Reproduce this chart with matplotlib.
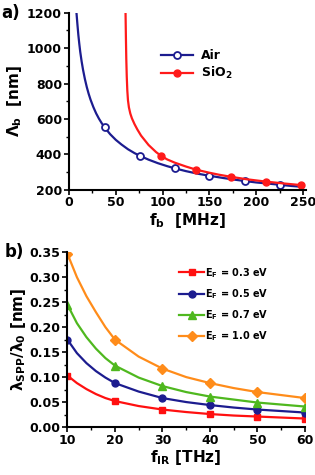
import numpy as np
import matplotlib
matplotlib.use("Agg")
import matplotlib.pyplot as plt
from matplotlib.ticker import MultipleLocator, AutoMinorLocator

plt.rcParams['font.family'] = ['DejaVu Sans']
plt.rcParams['font.weight'] = 'bold'
plt.rcParams['axes.labelweight'] = 'bold'
plt.rcParams['mathtext.fontset'] = 'dejavusans'
plt.rcParams['mathtext.default'] = 'bf'

# ---- panel a) data (read off the picture)
air_f = [8, 9, 10, 11, 12, 13.5, 15, 17, 19, 21, 23, 26, 29, 32, 35, 38, 44, 50, 56, 63, 70, 76,
         85, 95, 105, 113, 125, 138, 150, 165, 178, 188, 200, 212, 225, 238, 250]
air_L = [1200, 1135, 1075, 1025, 980, 925, 878, 825, 780, 742, 709, 667, 631, 601, 575, 552, 513,
         481, 455, 428, 406, 390, 369, 349, 332, 320, 304, 289, 278, 265, 255, 248, 240, 234, 227, 220, 215]
air_mk = [15, 21, 25, 28, 31, 34]

sio2_f = [60.4, 60.8, 61.2, 61.7, 62.3, 63, 64, 65.5, 67.2, 70, 73, 77, 85, 93, 98, 105, 113,
          125, 136, 150, 160, 173, 190, 210, 230, 248]
sio2_L = [1200, 1060, 940, 840, 760, 705, 665, 630, 603, 570, 540, 505, 452, 412, 392, 370, 352,
          330, 312, 295, 284, 272, 258, 245, 234, 225]
sio2_mk = [14, 18, 21, 23, 25]

# ---- panel b) data
f_ir = [10, 12, 14, 16, 18, 20, 25, 30, 35, 40, 45, 50, 55, 60]
ef03 = [0.103, 0.088, 0.076, 0.066, 0.058, 0.052, 0.042, 0.035, 0.030, 0.026, 0.023, 0.021, 0.019, 0.017]
ef05 = [0.175, 0.148, 0.128, 0.112, 0.099, 0.088, 0.071, 0.058, 0.050, 0.044, 0.039, 0.035, 0.032, 0.029]
ef07 = [0.245, 0.208, 0.180, 0.157, 0.138, 0.123, 0.099, 0.082, 0.070, 0.061, 0.055, 0.049, 0.045, 0.041]
ef10 = [0.347, 0.300, 0.262, 0.230, 0.200, 0.175, 0.141, 0.117, 0.100, 0.088, 0.078, 0.070, 0.064, 0.058]
ir_mk = [0, 5, 7, 9, 11, 13]

navy = '#1c1c8f'
red = '#ff1a1a'

fig = plt.figure(figsize=(3.15, 4.75), dpi=100)

def style(ax):
    for s in ['top', 'right']:
        ax.spines[s].set_visible(False)
    for s in ['left', 'bottom']:
        ax.spines[s].set_linewidth(1.5)
    ax.tick_params(which='major', direction='out', length=3.5, width=1.2, labelsize=9, pad=1.5)
    ax.tick_params(which='minor', direction='out', length=2, width=1)
    ax.xaxis.set_minor_locator(AutoMinorLocator(2))
    ax.yaxis.set_minor_locator(AutoMinorLocator(2))

# a)
ax1 = fig.add_axes([0.219, 0.601, 0.752, 0.372])
ax1.plot(air_f, air_L, '-o', color=navy, lw=1.6, ms=5, mfc='white', mec=navy, mew=1.3,
         markevery=air_mk, label='Air')
ax1.plot(sio2_f, sio2_L, '-o', color=red, lw=1.6, ms=5, mfc=red, mec=red,
         markevery=sio2_mk, label='SiO$_2$')
ax1.set_xlim(0, 253)
ax1.set_ylim(200, 1200)
ax1.xaxis.set_major_locator(MultipleLocator(50))
ax1.yaxis.set_major_locator(MultipleLocator(200))
style(ax1)
ax1.set_xlabel('f$_b$  [MHz]', fontsize=11, labelpad=1)
ax1.set_ylabel('$\\Lambda_b$  [nm]', fontsize=11, labelpad=2)
ax1.legend(loc='upper left', bbox_to_anchor=(0.36, 0.83), frameon=False, fontsize=9,
           handlelength=2.6, handletextpad=0.6, labelspacing=0.25, borderpad=0)
fig.text(0.005, 0.973, 'a)', fontsize=12, va='center')

# b)
ax2 = fig.add_axes([0.214, 0.101, 0.754, 0.368])
ax2.plot(f_ir, ef03, '-s', color='#ff1010', lw=1.6, ms=5, markevery=ir_mk, label='E$_F$ = 0.3 eV')
ax2.plot(f_ir, ef05, '-o', color=navy, lw=1.6, ms=5, markevery=ir_mk, label='E$_F$ = 0.5 eV')
ax2.plot(f_ir, ef07, '-^', color='#4fb81f', lw=1.6, ms=5.5, markevery=ir_mk, label='E$_F$ = 0.7 eV')
ax2.plot(f_ir, ef10, '-D', color='#ff8c1a', lw=1.6, ms=5, markevery=ir_mk, label='E$_F$ = 1.0 eV')
ax2.set_xlim(10, 60)
ax2.set_ylim(0, 0.35)
ax2.xaxis.set_major_locator(MultipleLocator(10))
ax2.yaxis.set_major_locator(MultipleLocator(0.05))
ax2.yaxis.set_major_formatter(plt.FormatStrFormatter('%.2f'))
style(ax2)
ax2.set_xlabel('f$_{IR}$ [THz]', fontsize=11, labelpad=1)
ax2.set_ylabel('$\\lambda_{SPP}/\\lambda_0$ [nm]', fontsize=11, labelpad=1)
ax2.legend(loc='upper left', bbox_to_anchor=(0.45, 0.95), frameon=False, fontsize=7,
           handlelength=2.6, handletextpad=0.1, labelspacing=0.75, borderpad=0)
fig.text(0.015, 0.47, 'b)', fontsize=12, va='center')

fig.savefig('out.png', dpi=100)
